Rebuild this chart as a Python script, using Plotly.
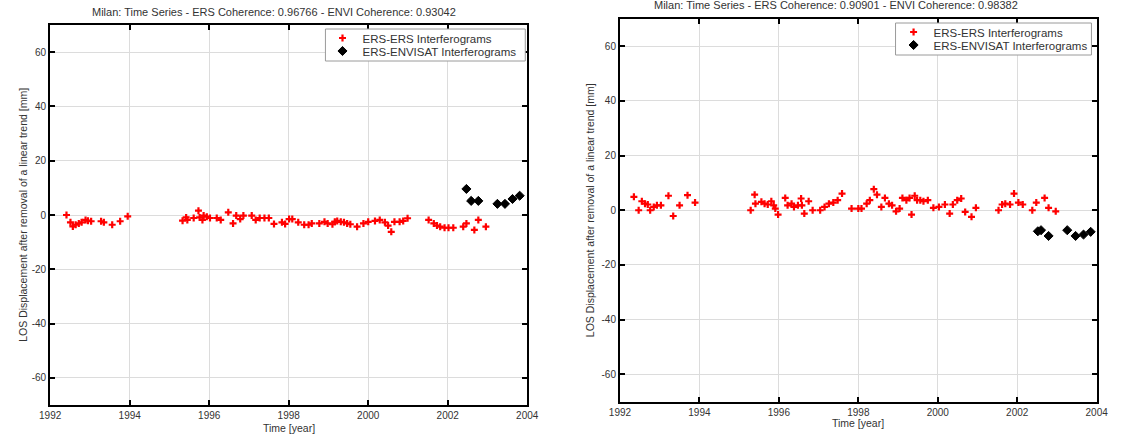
import plotly.graph_objects as go

# ---------------- data ----------------
left_ers_t = [1992.41, 1992.51, 1992.57, 1992.64, 1992.72, 1992.79, 1992.89, 1992.95, 1993.03,
              1993.28, 1993.35, 1993.56, 1993.76, 1993.95,
              1995.33, 1995.42, 1995.45, 1995.61, 1995.73, 1995.76, 1995.83, 1995.86, 1995.94,
              1996.02, 1996.19, 1996.29, 1996.48, 1996.60, 1996.68, 1996.78, 1996.86,
              1997.07, 1997.17, 1997.27, 1997.39, 1997.50, 1997.63, 1997.83, 1997.91,
              1998.01, 1998.09, 1998.24, 1998.39, 1998.50, 1998.58, 1998.77, 1998.90, 1998.98,
              1999.10, 1999.16, 1999.22, 1999.31, 1999.39, 1999.47, 1999.55, 1999.72, 1999.88,
              2000.00, 2000.17, 2000.29, 2000.42, 2000.50, 2000.58, 2000.66, 2000.79, 2000.88, 2000.99,
              2001.52, 2001.65, 2001.73, 2001.81, 2001.92, 2002.02, 2002.14,
              2002.39, 2002.47, 2002.67, 2002.77, 2002.96]
left_ers_v = [0.0, -2.7, -4.2, -3.6, -3.1, -2.7, -1.8, -2.1, -2.3,
              -2.3, -2.7, -3.6, -2.3, -0.5,
              -2.1, -0.9, -1.8, -1.1, 1.6, -0.9, -1.8, -0.2, -0.6,
              -1.1, -1.1, -1.8, 1.0, -3.1, -0.2, -1.5, -0.2,
              -0.2, -1.8, -1.1, -1.1, -1.1, -3.3, -2.7, -3.3,
              -1.5, -1.5, -2.7, -3.6, -3.6, -3.1, -3.1, -2.5, -3.1,
              -3.4, -2.5, -2.2, -2.5, -2.7, -3.1, -3.4, -4.3, -3.1,
              -2.5, -2.2, -1.8, -2.7, -3.9, -6.2, -2.5, -2.5, -2.2, -1.2,
              -1.8, -3.1, -3.9, -4.3, -4.7, -4.7, -4.7,
              -4.3, -3.1, -5.5, -1.8, -4.3]
left_env_t = [2002.47, 2002.59, 2002.77, 2003.25, 2003.44, 2003.63, 2003.81]
left_env_v = [9.6, 5.2, 5.2, 4.1, 4.1, 5.9, 7.1]

right_ers_t = [1992.35, 1992.47, 1992.55, 1992.63, 1992.70, 1992.76, 1992.85, 1992.93, 1993.03,
               1993.22, 1993.34, 1993.50, 1993.70, 1993.89,
               1995.29, 1995.39, 1995.41, 1995.56, 1995.64, 1995.72, 1995.81, 1995.87, 1995.91, 1995.98,
               1996.16, 1996.22, 1996.32, 1996.38, 1996.48, 1996.56, 1996.58, 1996.64, 1996.75, 1996.85,
               1997.04, 1997.15, 1997.26, 1997.37, 1997.48, 1997.59, 1997.83, 1998.00,
               1998.08, 1998.21, 1998.29, 1998.39, 1998.47, 1998.58, 1998.67, 1998.77, 1998.85, 1998.95,
               1999.04, 1999.11, 1999.21, 1999.29, 1999.34, 1999.42, 1999.48, 1999.56, 1999.64, 1999.75,
               1999.89, 2000.03, 2000.18, 2000.30, 2000.38, 2000.49, 2000.59, 2000.69, 2000.85, 2000.96,
               2001.53, 2001.62, 2001.70, 2001.82, 2001.92, 2002.03, 2002.14,
               2002.38, 2002.48, 2002.69, 2002.79, 2002.97]
right_ers_v = [4.9, 0.0, 3.3, 2.4, 2.1, 0.0, 1.2, 1.8, 1.8,
               5.3, -2.1, 1.8, 5.5, 2.8,
               0.0, 5.7, 2.4, 3.1, 2.4, 2.1, 3.3, 1.8, 0.6, -1.6,
               4.5, 1.8, 2.4, 1.2, 1.8, 4.3, 1.8, -1.2, 3.3, 0.0,
               0.0, 1.2, 2.4, 2.8, 3.7, 6.1, 0.6, 0.6,
               0.6, 2.4, 3.7, 7.7, 5.7, 1.2, 4.5, 2.4, 1.8, -0.4,
               0.6, 4.5, 3.7, 4.5, -1.6, 5.3, 3.7, 3.7, 3.3, 3.7,
               0.9, 1.2, 2.1, -1.2, 2.1, 3.7, 4.3, -0.6, -2.4, 0.9,
               0.0, 2.1, 2.4, 2.1, 6.1, 2.8, 2.1,
               0.0, 2.8, 4.5, 0.9, -0.4]
right_env_t = [2002.52, 2002.60, 2002.79, 2003.26, 2003.47, 2003.67, 2003.85]
right_env_v = [-7.7, -7.3, -9.4, -7.3, -9.4, -8.9, -7.9]

titles = ["Milan: Time Series - ERS Coherence: 0.96766 - ENVI Coherence: 0.93042",
          "Milan: Time Series - ERS Coherence: 0.90901 - ENVI Coherence: 0.98382"]
series_names = ["ERS-ERS Interferograms", "ERS-ENVISAT Interferograms"]
x_ticks = [1992, 1994, 1996, 1998, 2000, 2002, 2004]
y_ticks = [-60, -40, -20, 0, 20, 40, 60]
x_title = "Time [year]"
y_title = "LOS Displacement after removal of a linear trend [mm]"

# ---------------- layout geometry ----------------
W, H = 1125, 439
FONT = "Liberation Sans, Arial, sans-serif"
TXT = "#333333"

def fx(px):
    return px / W

def fy(py):
    return 1 - py / H

panels = [
    dict(x0=40, x1=527, y0=25, y1=405, title_y=12, title_cx=268, xt_y=428, yt_x=12,
         box=(321, 525, 29, 61), rows=(38, 51), marker_x=338),
    dict(x0=621.7, x1=1108.3, y0=19, y1=401.5, title_cx=842, title_y=5, xt_y=423, yt_x=591,
         box=(903, 1103, 23, 55), rows=(32, 45), marker_x=921),
]

fig = go.Figure()

data = [(left_ers_t, left_ers_v, left_env_t, left_env_v),
        (right_ers_t, right_ers_v, right_env_t, right_env_v)]

legend_ids = [("legend", "legend2"), ("legend3", "legend4")]

for i, (p, (et, ev, nt, nv)) in enumerate(zip(panels, data)):
    xa = "x" if i == 0 else "x2"
    ya = "y" if i == 0 else "y2"
    fig.add_trace(go.Scatter(
        x=et, y=ev, mode="markers", name=series_names[0], xaxis=xa, yaxis=ya,
        legend=legend_ids[i][0],
        marker=dict(symbol="cross-thin", size=5, color="#ff0000",
                    line=dict(color="#ff0000", width=2.2))))
    fig.add_trace(go.Scatter(
        x=nt, y=nv, mode="markers", name=series_names[1], xaxis=xa, yaxis=ya,
        legend=legend_ids[i][1],
        marker=dict(symbol="diamond", size=7, color="#000000",
                    line=dict(color="#000000", width=1))))

axis_common = dict(
    showline=True, linecolor="black", linewidth=2, mirror="ticks",
    ticks="inside", ticklen=5, tickwidth=1.5, tickcolor="black",
    showgrid=True, gridcolor="#dcdcdc", gridwidth=1, zeroline=False,
    tickfont=dict(family=FONT, size=10, color=TXT),
)

layout_axes = {}
for i, p in enumerate(panels):
    sx = "xaxis" if i == 0 else "xaxis2"
    sy = "yaxis" if i == 0 else "yaxis2"
    ax_x = dict(axis_common)
    ax_x.update(domain=[fx(p["x0"]), fx(p["x1"])], range=[1992, 2004],
                tickvals=x_ticks, ticktext=[str(v) for v in x_ticks],
                anchor="y" if i == 0 else "y2")
    ax_y = dict(axis_common)
    ax_y.update(domain=[fy(p["y1"]), fy(p["y0"])], range=[-70, 70],
                tickvals=y_ticks, ticktext=[str(v) for v in y_ticks],
                anchor="x" if i == 0 else "x2")
    layout_axes[sx] = ax_x
    layout_axes[sy] = ax_y

annotations = []
shapes = []
legends = {}
for i, p in enumerate(panels):
    cx = (p["x0"] + p["x1"]) / 2
    annotations.append(dict(text=titles[i], x=fx(p["title_cx"]), y=fy(p["title_y"]),
                            xref="paper", yref="paper",
                            showarrow=False, xanchor="center", yanchor="middle",
                            font=dict(family=FONT, size=11, color=TXT)))
    annotations.append(dict(text=x_title, x=fx(cx), y=fy(p["xt_y"]), xref="paper", yref="paper",
                            showarrow=False, xanchor="center", yanchor="middle",
                            font=dict(family=FONT, size=10.5, color=TXT)))
    annotations.append(dict(text=y_title, x=fx(p["yt_x"]), y=fy((p["y0"] + p["y1"]) / 2),
                            xref="paper", yref="paper", textangle=-90,
                            showarrow=False, xanchor="center", yanchor="middle",
                            font=dict(family=FONT, size=10.5, color=TXT)))
    bx0, bx1, by0, by1 = p["box"]
    shapes.append(dict(type="rect", xref="paper", yref="paper",
                       x0=fx(bx0), x1=fx(bx1), y0=fy(by1), y1=fy(by0),
                       fillcolor="white", line=dict(color="#9a9a9a", width=1), layer="above"))
    for k, row_y in enumerate(p["rows"]):
        legends[legend_ids[i][k]] = dict(
            bgcolor="rgba(0,0,0,0)", borderwidth=0,
            font=dict(family=FONT, size=11.5, color=TXT),
            x=fx(p["marker_x"] - 20), y=fy(row_y), xanchor="left", yanchor="middle",
            itemsizing="trace", itemwidth=30,
        )

fig.update_layout(
    width=W, height=H,
    margin=dict(l=0, r=0, t=0, b=0),
    paper_bgcolor="white", plot_bgcolor="white",
    showlegend=True,
    annotations=annotations,
    shapes=shapes,
    **legends,
    **layout_axes,
)

fig.write_html("out.html")
